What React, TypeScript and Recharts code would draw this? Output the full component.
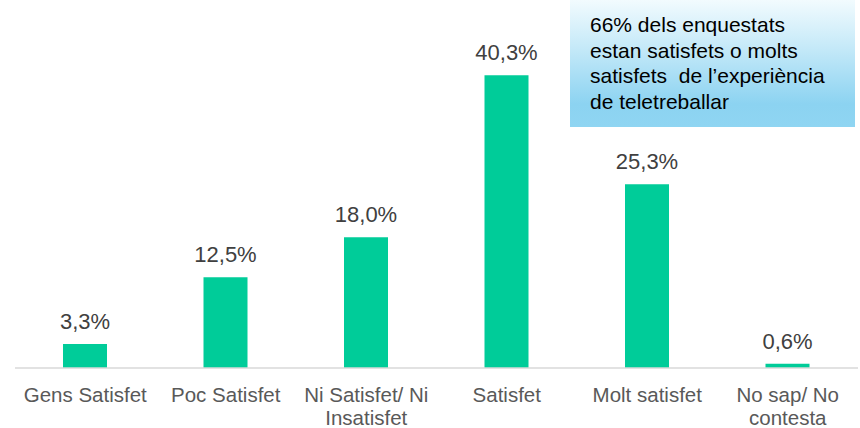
import React from 'react'
import { BarChart, Bar, XAxis, YAxis, LabelList } from 'recharts'

const categories = [
  'Gens Satisfet',
  'Poc Satisfet',
  'Ni Satisfet/ Ni\nInsatisfet',
  'Satisfet',
  'Molt satisfet',
  'No sap/ No\ncontesta',
]
const values = [3.3, 12.5, 18.0, 40.3, 25.3, 0.6]
const noteLines = [
  '66% dels enquestats',
  'estan satisfets o molts',
  'satisfets  de l\u2019experiència',
  'de teletreballar',
]

const data = categories.map((c, i) => ({ name: c, value: values[i] }))

const FONT = '"Liberation Sans", Arial, sans-serif'

function CategoryTick(props: any) {
  const { x, y, payload } = props
  const lines = String(payload.value).split('\n')
  return (
    <text x={x} y={y} textAnchor="middle" fill="#595959" fontSize={20.5} fontFamily={FONT}>
      {lines.map((l, i) => (
        <tspan key={i} x={x} dy={i === 0 ? 26 : 23}>
          {l}
        </tspan>
      ))}
    </text>
  )
}

const fmt = (v: any) => Number(v).toFixed(1).replace('.', ',') + '%'

export default function App() {
  return (
    <div
      style={{
        position: 'absolute',
        left: 0,
        top: 0,
        width: 860,
        height: 428,
        overflow: 'hidden',
        background: '#fff',
      }}
    >
      <BarChart
        width={860}
        height={428}
        data={data}
        margin={{ top: 41, right: 2, bottom: 0, left: 15 }}
        barCategoryGap={0}
        style={{ overflow: 'visible' }}
      >
        <YAxis hide domain={[0, 45]} />
        <XAxis
          dataKey="name"
          height={60}
          interval={0}
          tickLine={false}
          axisLine={{ stroke: '#d9d9d9', strokeWidth: 1.5 }}
          tick={<CategoryTick />}
        />
        <Bar dataKey="value" fill="#00cc99" barSize={44} isAnimationActive={false}>
          <LabelList
            dataKey="value"
            position="top"
            offset={15}
            formatter={fmt}
            fill="#404040"
            fontSize={22}
            fontFamily={FONT}
          />
        </Bar>
      </BarChart>
      <div
        style={{
          position: 'absolute',
          left: 570,
          top: 0,
          width: 285,
          height: 127,
          background: 'linear-gradient(to bottom, #f2fbfe 0%, #c2e8f8 40%, #8cd3f1 82%, #8fd5f2 100%)',
          fontFamily: FONT,
          fontSize: 21,
          lineHeight: '25.7px',
          color: '#000',
          padding: '12px 0 0 20px',
          boxSizing: 'border-box',
        }}
      >
        {noteLines.map((l, i) => (
          <div key={i} style={{ whiteSpace: 'pre' }}>
            {l}
          </div>
        ))}
      </div>
    </div>
  )
}
